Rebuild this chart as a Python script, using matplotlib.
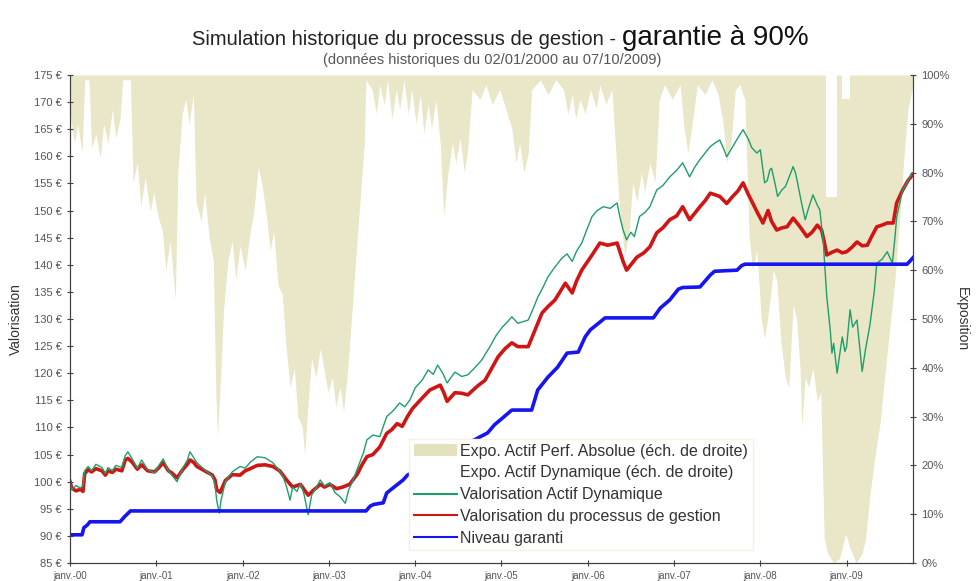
import numpy as np
import matplotlib.pyplot as plt
from matplotlib.patches import Patch
from matplotlib.lines import Line2D

plt.rcParams['font.family'] = ['Liberation Sans', 'DejaVu Sans']

# dates in decimal years
val_t = [2000.00, 2000.02, 2000.07, 2000.12, 2000.15, 2000.17, 2000.21, 2000.25, 2000.30, 2000.37,
         2000.41, 2000.44, 2000.49, 2000.53, 2000.60, 2000.64, 2000.67, 2000.72, 2000.78, 2000.83,
         2000.90, 2000.98, 2001.03, 2001.08, 2001.14, 2001.18, 2001.24, 2001.31, 2001.36, 2001.39,
         2001.43, 2001.47, 2001.56, 2001.65, 2001.68, 2001.70, 2001.74, 2001.80, 2001.88, 2001.97,
         2002.03, 2002.09, 2002.17, 2002.26, 2002.35, 2002.43, 2002.51, 2002.58, 2002.67, 2002.71,
         2002.76, 2002.82, 2002.90, 2002.95, 2003.01, 2003.09, 2003.16, 2003.24, 2003.33, 2003.38,
         2003.44, 2003.51, 2003.59, 2003.67, 2003.73, 2003.79, 2003.85, 2003.91, 2003.97, 2004.08,
         2004.17, 2004.29, 2004.33, 2004.37, 2004.46, 2004.54, 2004.61, 2004.72, 2004.81, 2004.89,
         2004.96, 2005.04, 2005.12, 2005.19, 2005.31, 2005.39, 2005.47, 2005.54, 2005.62, 2005.74,
         2005.82, 2005.87, 2005.93, 2006.05, 2006.14, 2006.23, 2006.34, 2006.41, 2006.45, 2006.51,
         2006.57, 2006.65, 2006.72, 2006.80, 2006.87, 2006.95, 2007.03, 2007.10, 2007.18, 2007.30,
         2007.36, 2007.42, 2007.53, 2007.61, 2007.68, 2007.74, 2007.80, 2007.86, 2007.91, 2007.97,
         2008.03, 2008.09, 2008.13, 2008.19, 2008.25, 2008.31, 2008.38, 2008.46, 2008.54, 2008.60,
         2008.66, 2008.71, 2008.75, 2008.77, 2008.83, 2008.89, 2008.95, 2009.00, 2009.06, 2009.12,
         2009.18, 2009.24, 2009.29, 2009.35, 2009.41, 2009.47, 2009.54, 2009.58, 2009.65, 2009.71,
         2009.76]
processus = [100.0, 98.8, 98.3, 98.6, 98.2, 101.5, 102.2, 101.8, 102.4, 102.0,
             101.2, 102.0, 101.7, 102.3, 102.0, 104.0, 104.3, 103.6, 102.3, 103.1,
             102.0, 101.8, 102.6, 103.5, 102.0, 101.6, 100.7, 102.3, 103.2, 104.0,
             103.6, 102.8, 102.0, 101.2, 100.3, 98.5, 98.0, 100.2, 101.3, 101.2,
             102.0, 102.4, 103.0, 103.1, 102.8, 102.0, 100.3, 99.0, 99.5, 98.6,
             97.5, 98.4, 99.5, 99.0, 99.5, 98.7, 99.0, 99.5, 101.4, 103.0,
             104.6, 105.0, 106.4, 108.9, 109.6, 110.7, 110.2, 112.0, 113.5, 115.4,
             116.9, 117.8, 116.5, 114.8, 116.4, 116.3, 116.0, 117.6, 118.7, 121.0,
             123.0, 124.5, 125.6, 124.9, 124.9, 128.0, 131.1, 132.3, 133.5, 136.6,
             134.8, 137.0, 139.0, 141.8, 144.0, 143.6, 144.0, 140.6, 139.0, 140.2,
             141.4, 142.2, 143.3, 145.9, 146.8, 148.3, 149.0, 150.7, 148.3, 150.7,
             151.8, 153.2, 152.6, 151.3, 152.6, 153.6, 155.1, 153.0, 151.4, 149.5,
             147.7, 150.0, 148.0, 146.4, 146.8, 147.0, 148.6, 147.0, 145.2, 146.0,
             147.3, 146.4, 143.5, 141.8, 142.3, 142.7, 142.2, 142.4, 143.2, 144.2,
             143.5, 143.6, 145.2, 147.0, 147.3, 147.7, 147.7, 151.4, 153.8, 155.5,
             156.5]

dyn_t = [2000.00, 2000.02, 2000.07, 2000.12, 2000.15, 2000.17, 2000.21, 2000.25, 2000.30, 2000.37,
         2000.41, 2000.44, 2000.49, 2000.53, 2000.60, 2000.64, 2000.67, 2000.72, 2000.78, 2000.83,
         2000.90, 2000.98, 2001.03, 2001.08, 2001.14, 2001.18, 2001.24, 2001.31, 2001.36, 2001.39,
         2001.43, 2001.47, 2001.56, 2001.65, 2001.68, 2001.70, 2001.73, 2001.75, 2001.80, 2001.88,
         2001.97, 2002.03, 2002.09, 2002.17, 2002.26, 2002.35, 2002.43, 2002.47, 2002.51, 2002.55,
         2002.58, 2002.63, 2002.67, 2002.71, 2002.76, 2002.80, 2002.85, 2002.90, 2002.95, 2003.01,
         2003.07, 2003.13, 2003.19, 2003.23, 2003.28, 2003.34, 2003.40, 2003.44, 2003.51, 2003.59,
         2003.67, 2003.74, 2003.82, 2003.88, 2003.94, 2004.00, 2004.08, 2004.15, 2004.21, 2004.26,
         2004.32, 2004.37, 2004.46, 2004.54, 2004.61, 2004.69, 2004.77, 2004.87, 2004.94, 2005.01,
         2005.06, 2005.12, 2005.19, 2005.25, 2005.31, 2005.37, 2005.42, 2005.48, 2005.54, 2005.62,
         2005.70, 2005.76, 2005.82, 2005.87, 2005.93, 2005.99, 2006.05, 2006.11, 2006.18, 2006.26,
         2006.34, 2006.37, 2006.41, 2006.45, 2006.50, 2006.54, 2006.60, 2006.66, 2006.72, 2006.80,
         2006.87, 2006.95, 2007.03, 2007.10, 2007.18, 2007.24, 2007.30, 2007.36, 2007.42, 2007.47,
         2007.53, 2007.58, 2007.61, 2007.68, 2007.74, 2007.80, 2007.86, 2007.90, 2007.96, 2008.00,
         2008.03, 2008.05, 2008.08, 2008.11, 2008.13, 2008.17, 2008.20, 2008.25, 2008.29, 2008.33,
         2008.38, 2008.41, 2008.44, 2008.48, 2008.52, 2008.56, 2008.61, 2008.66, 2008.69, 2008.73,
         2008.75, 2008.77, 2008.81, 2008.83, 2008.85, 2008.89, 2008.92, 2008.95, 2008.98, 2009.00,
         2009.04, 2009.07, 2009.12, 2009.15, 2009.18, 2009.22, 2009.27, 2009.32, 2009.35, 2009.41,
         2009.47, 2009.53, 2009.56, 2009.58, 2009.65, 2009.71, 2009.76]
actif_dyn = [100.0, 98.5, 99.3, 98.8, 99.2, 102.0, 102.8, 102.0, 103.2, 102.6,
             101.5, 102.6, 102.0, 103.0, 102.6, 104.8, 105.5, 104.2, 102.5, 104.0,
             102.2, 101.6, 103.0, 104.2, 102.0, 101.2, 100.0, 102.6, 104.0, 105.5,
             104.5, 103.5, 102.2, 101.0, 99.5, 96.5, 94.2, 96.5, 100.0, 101.8,
             102.8, 102.5, 103.6, 104.6, 104.4, 103.5, 102.0, 100.9, 99.0, 96.6,
             99.0, 98.2, 99.6, 97.8, 93.9, 97.5, 98.8, 100.3, 99.2, 99.8,
             98.0, 97.2, 96.0, 98.5, 100.3, 102.8, 105.3, 107.7, 108.6, 108.3,
             112.0, 113.0, 114.5, 113.8, 115.1, 117.3, 118.7, 120.6, 119.8, 121.5,
             120.0, 118.2, 120.2, 119.4, 119.7, 121.0, 122.4, 125.0, 127.0, 128.5,
             129.3, 130.4, 129.2, 129.5, 129.8, 132.0, 134.0, 135.8, 137.8, 139.6,
             141.2, 142.0, 140.6, 142.5, 144.0, 146.5, 148.9, 150.0, 150.7, 150.4,
             151.4, 149.0, 146.4, 144.6, 146.0, 145.2, 148.9, 149.6, 150.7, 153.8,
             154.6, 156.2, 157.4, 158.8, 156.2, 158.0, 159.4, 160.6, 161.8, 162.4,
             163.0, 161.2, 159.9, 161.8, 163.4, 164.9, 163.2, 161.6, 160.6, 161.2,
             157.5, 155.1, 155.5, 157.5, 157.8, 155.0, 152.6, 153.8, 154.4, 156.0,
             158.1, 156.8, 154.4, 151.2, 148.3, 150.5, 152.9, 151.0, 150.1, 144.0,
             139.0, 134.1, 128.0, 123.7, 125.5, 120.0, 123.5, 126.7, 124.0, 124.9,
             131.7, 128.5, 129.8, 125.0, 120.3, 124.5, 128.9, 135.0, 140.3, 141.0,
             142.4, 140.3, 145.0, 148.8, 153.8, 155.5, 157.0]

gar_t = [2000.00, 2000.14, 2000.16, 2000.20, 2000.23, 2000.58, 2000.63, 2000.70, 2003.43, 2003.48,
         2003.52, 2003.63, 2003.67, 2003.74, 2003.86, 2003.91, 2004.84, 2004.92, 2005.01, 2005.12,
         2005.35, 2005.42, 2005.54, 2005.65, 2005.76, 2005.89, 2005.97, 2006.03, 2006.14, 2006.20,
         2006.76, 2006.84, 2006.95, 2007.05, 2007.10, 2007.30, 2007.36, 2007.42, 2007.47, 2007.73,
         2007.78, 2007.82, 2009.70, 2009.73, 2009.77]
garanti = [90.2, 90.2, 91.5, 92.0, 92.6, 92.6, 93.5, 94.6, 94.6, 95.5,
           95.8, 96.1, 97.9, 98.8, 100.3, 101.2, 109.0, 110.5, 111.7, 113.2,
           113.2, 116.9, 119.3, 121.1, 123.7, 123.9, 126.7, 128.0, 129.4, 130.2,
           130.2, 132.0, 133.5, 135.5, 135.8, 135.9, 137.0, 138.1, 138.8, 139.0,
           139.8, 140.1, 140.1, 140.6, 141.3]

# exposure to the dynamic asset (%), the perf. absolue asset fills the rest up to the top
expo_t = [2000.00, 2000.05, 2000.09, 2000.14, 2000.17, 2000.22, 2000.25, 2000.30, 2000.35, 2000.39,
          2000.44, 2000.49, 2000.53, 2000.58, 2000.61, 2000.70, 2000.73, 2000.78, 2000.82, 2000.87,
          2000.93, 2000.97, 2001.02, 2001.07, 2001.11, 2001.16, 2001.22, 2001.25, 2001.30, 2001.34,
          2001.38, 2001.43, 2001.46, 2001.52, 2001.56, 2001.61, 2001.66, 2001.69, 2001.71, 2001.75,
          2001.78, 2001.83, 2001.88, 2001.92, 2001.97, 2002.03, 2002.09, 2002.13, 2002.18, 2002.22,
          2002.27, 2002.32, 2002.36, 2002.41, 2002.46, 2002.50, 2002.55, 2002.60, 2002.64, 2002.69,
          2002.72, 2002.76, 2002.80, 2002.85, 2002.90, 2002.94, 2002.99, 2003.04, 2003.08, 2003.13,
          2003.17, 2003.22, 2003.27, 2003.31, 2003.36, 2003.41, 2003.43, 2003.50, 2003.55, 2003.59,
          2003.64, 2003.68, 2003.73, 2003.78, 2003.82, 2003.87, 2003.92, 2003.96, 2004.01, 2004.06,
          2004.10, 2004.15, 2004.19, 2004.24, 2004.29, 2004.33, 2004.38, 2004.43, 2004.47, 2004.52,
          2004.57, 2004.61, 2004.66, 2004.75, 2004.82, 2004.89, 2004.98, 2005.05, 2005.12, 2005.17,
          2005.21, 2005.26, 2005.31, 2005.35, 2005.45, 2005.54, 2005.63, 2005.72, 2005.77, 2005.82,
          2005.86, 2005.91, 2005.97, 2006.03, 2006.10, 2006.14, 2006.21, 2006.28, 2006.34, 2006.38,
          2006.43, 2006.48, 2006.52, 2006.57, 2006.62, 2006.66, 2006.72, 2006.78, 2006.83, 2006.89,
          2006.98, 2007.07, 2007.11, 2007.16, 2007.21, 2007.27, 2007.36, 2007.44, 2007.51, 2007.57,
          2007.61, 2007.66, 2007.71, 2007.76, 2007.82, 2007.87, 2007.91, 2007.96, 2008.01, 2008.05,
          2008.10, 2008.15, 2008.19, 2008.24, 2008.29, 2008.33, 2008.38, 2008.42, 2008.46, 2008.48,
          2008.52, 2008.56, 2008.61, 2008.66, 2008.70, 2008.74, 2008.78, 2008.85, 2008.92, 2008.99,
          2009.04, 2009.11, 2009.18, 2009.22, 2009.27, 2009.33, 2009.39, 2009.44, 2009.50, 2009.56,
          2009.62, 2009.66, 2009.71, 2009.77]
expo_dyn = [92, 86, 90, 84, 99, 99, 85, 88, 83, 90,
            86, 93, 87, 91, 99, 99, 78, 82, 73, 79,
            72, 76, 71, 68, 60, 66, 54, 80, 92, 95,
            90, 96, 74, 70, 76, 67, 62, 35, 26, 40,
            52, 62, 66, 58, 65, 60, 68, 72, 81, 78,
            72, 64, 68, 57, 55, 45, 36, 40, 30, 28,
            22, 33, 42, 38, 44, 40, 35, 38, 32, 36,
            31, 40, 52, 62, 74, 86, 99, 97, 92, 98,
            94, 99, 91, 97, 93, 99, 92, 97, 90, 96,
            88, 94, 89, 95, 86, 71, 80, 86, 82, 87,
            80, 85, 97, 95, 98, 94, 97, 93, 89, 82,
            86, 80, 84, 97, 99, 96, 99, 97, 92, 96,
            91, 95, 92, 97, 93, 98, 94, 97, 80, 70,
            63, 68, 78, 74, 80, 76, 82, 78, 95, 98,
            95, 98, 90, 84, 90, 98, 96, 99, 96, 90,
            82, 86, 97, 98, 95, 67, 60, 64, 50, 46,
            52, 60, 58, 45, 38, 36, 53, 50, 40, 28,
            38, 36, 40, 33, 35, 5, 2, 0, 1, 6,
            3, 0, 2, 5, 14, 22, 29, 38, 48, 58,
            72, 82, 93, 98]

# periods where total exposure stayed below 100% (late 2008)
gap_start = [2008.76, 2008.95]
gap_end = [2008.89, 2009.04]
gap_level = [75, 95]

years = list(range(2000, 2010))
year_labels = ['janv.-00', 'janv.-01', 'janv.-02', 'janv.-03', 'janv.-04',
               'janv.-05', 'janv.-06', 'janv.-07', 'janv.-08', 'janv.-09']

beige = '#E9E7C8'
grey_txt = '#555555'

fig = plt.figure(figsize=(9.78, 5.81), dpi=100)
ax = fig.add_axes([0.0716, 0.031, 0.862, 0.840])
ax2 = ax.twinx()

# exposure areas on the right scale
ax2.fill_between(expo_t, 0, expo_dyn, color='white', lw=0)
ax2.fill_between(expo_t, expo_dyn, 100, color=beige, lw=0)
for s, e, lev in zip(gap_start, gap_end, gap_level):
    ax2.fill_between([s, e], [lev, lev], [100, 100], color='white', lw=0)
ax2.set_ylim(0, 100)
ax2.set_yticks(range(0, 101, 10))
ax2.set_yticklabels([f'{v}%' for v in range(0, 101, 10)])
ax2.set_ylabel('Exposition', rotation=270, labelpad=14, fontsize=10, color='#333333')

# valuation lines on the left scale, drawn above the areas
ax.set_zorder(ax2.get_zorder() + 1)
ax.patch.set_visible(False)
ax.plot(val_t, processus, color='#D01515', lw=2.6, solid_joinstyle='round')
ax.plot(dyn_t, actif_dyn, color='#1E9E6A', lw=1.0)
ax.plot(gar_t, garanti, color='#1515F0', lw=2.6, solid_joinstyle='round')

ax.set_xlim(2000, 2009.77)
ax.set_ylim(85, 175)
ax.set_yticks(range(85, 176, 5))
ax.set_yticklabels([f'{v} €' for v in range(85, 176, 5)])
ax.set_xticks(years)
ax.set_xticklabels(year_labels)
ax.set_ylabel('Valorisation', fontsize=10, color='#333333', labelpad=8)

for a in (ax, ax2):
    for sp in a.spines.values():
        sp.set_color('#404040')
    a.spines['top'].set_visible(False)
    a.tick_params(labelsize=8, labelcolor=grey_txt, color='#404040', direction='inout', length=5)
ax.tick_params(axis='x', pad=3, labelsize=7)

handles = [Patch(facecolor='#E3E1BE', edgecolor='none'),
           Patch(facecolor='white', edgecolor='none'),
           Line2D([], [], color='#1E9E6A', lw=1.5),
           Line2D([], [], color='#D01515', lw=1.5),
           Line2D([], [], color='#1515F0', lw=1.5)]
labels = ['Expo. Actif Perf. Absolue (éch. de droite)',
          'Expo. Actif Dynamique (éch. de droite)',
          'Valorisation Actif Dynamique',
          'Valorisation du processus de gestion',
          'Niveau garanti']
leg = ax.legend(handles, labels, loc='lower left', bbox_to_anchor=(0.402, 0.026),
                borderaxespad=0, fontsize=11.5, frameon=True, fancybox=False,
                framealpha=1, edgecolor='#F4F2DC', handlelength=2.7,
                handletextpad=0.2, labelspacing=0.42, borderpad=0.3)
for txt in leg.get_texts():
    txt.set_color('#333333')

fig.text(0.636, 0.922, 'Simulation historique du processus de gestion - ', ha='right',
         va='baseline', fontsize=14.5, color='#222222')
fig.text(0.636, 0.922, 'garantie à 90%', ha='left', va='baseline', fontsize=20, color='#111111')
fig.text(0.503, 0.897, '(données historiques du 02/01/2000 au 07/10/2009)', ha='center',
         va='center', fontsize=10.5, color=grey_txt)

fig.savefig('out.png', dpi=100)
